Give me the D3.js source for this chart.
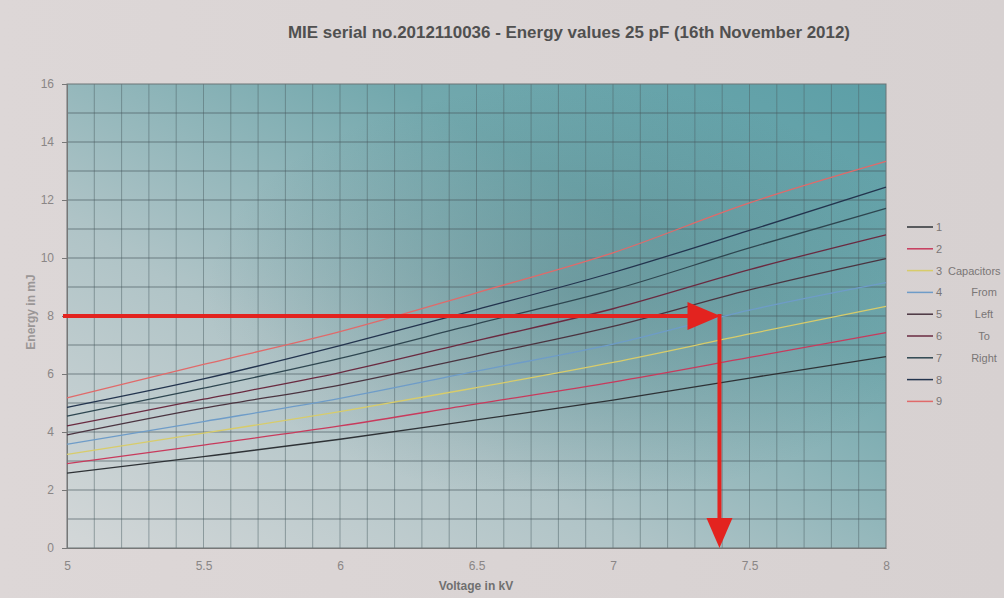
<!DOCTYPE html>
<html><head><meta charset="utf-8">
<script src="https://cdn.jsdelivr.net/npm/d3@7"></script>
<style>body{margin:0;background:#dbd5d5;}svg{display:block;}</style>
</head><body>
<svg id="c" width="1004" height="598"></svg>
<script>
const voltages = [5, 5.5, 6, 6.5, 7, 7.5, 8];
const s1 = [2.58, 3.15, 3.75, 4.42, 5.10, 5.86, 6.60];
const s2 = [2.91, 3.55, 4.21, 4.97, 5.72, 6.57, 7.43];
const s3 = [3.23, 3.96, 4.70, 5.53, 6.40, 7.38, 8.33];
const s4 = [3.58, 4.36, 5.16, 6.10, 7.03, 8.20, 9.15];
const s5 = [3.90, 4.82, 5.62, 6.62, 7.64, 8.90, 9.98];
const s6 = [4.21, 5.13, 6.05, 7.15, 8.25, 9.60, 10.80];
const s7 = [4.55, 5.51, 6.54, 7.73, 8.90, 10.35, 11.71];
const s8 = [4.85, 5.83, 6.98, 8.22, 9.50, 10.95, 12.44];
const s9 = [5.18, 6.33, 7.46, 8.80, 10.18, 11.90, 13.33];
const seriesNames = ["1", "2", "3", "4", "5", "6", "7", "8", "9"];
const seriesNotes = ["", "", "Capacitors", "From", "Left", "To", "Right", "", ""];
const seriesColors = ["#2e3236", "#c83a5c", "#d8cc6a", "#6e9cc8", "#4a3440", "#6a2a40", "#2e4650", "#23344e", "#e06a6a"];
const yTicks = [0, 2, 4, 6, 8, 10, 12, 14, 16];
const xTicks = [5, 5.5, 6, 6.5, 7, 7.5, 8];
const titleText = "MIE serial no.2012110036 -  Energy values 25 pF (16th November 2012)";
const xLabel = "Voltage in kV";
const yLabel = "Energy in mJ";
const readV = [7.39];
const readE = [8];

const allSeries = [s1, s2, s3, s4, s5, s6, s7, s8, s9];
const svg = d3.select("#c");
const W = 1004, H = 598;
const L = 67, R = 886, T = 84, B = 548;
const x = d3.scaleLinear().domain([5, 8]).range([L, R]);
const y = d3.scaleLinear().domain([0, 16]).range([B, T]);

const defs = svg.append("defs");
const bg = defs.append("linearGradient").attr("id", "pg").attr("x1", "0").attr("y1", "0").attr("x2", "1").attr("y2", "0");
bg.append("stop").attr("offset", "0").attr("stop-color", "#ddd7d7");
bg.append("stop").attr("offset", "1").attr("stop-color", "#d7d1d1");
svg.append("rect").attr("width", W).attr("height", H).attr("fill", "url(#pg)");

const g1 = defs.append("linearGradient").attr("id", "plotg").attr("x1", "0").attr("y1", "1").attr("x2", "1").attr("y2", "0");
g1.append("stop").attr("offset", "0").attr("stop-color", "#d3d7d8");
g1.append("stop").attr("offset", "0.35").attr("stop-color", "#b0c4c7");
g1.append("stop").attr("offset", "0.7").attr("stop-color", "#72a8ad");
g1.append("stop").attr("offset", "1").attr("stop-color", "#5c9fa7");
svg.append("rect").attr("x", L).attr("y", T).attr("width", R - L).attr("height", B - T).attr("fill", "url(#plotg)");
const g2 = defs.append("radialGradient").attr("id", "shade").attr("cx", "0.62").attr("cy", "0.45").attr("r", "0.45");
g2.append("stop").attr("offset", "0").attr("stop-color", "#3a6a70").attr("stop-opacity", 0.32);
g2.append("stop").attr("offset", "1").attr("stop-color", "#3a6a70").attr("stop-opacity", 0);
svg.append("rect").attr("x", L).attr("y", T).attr("width", R - L).attr("height", B - T).attr("fill", "url(#shade)");

// grid
const grid = svg.append("g");
grid.selectAll("line.v").data(d3.range(1, 30).map(i => 5 + i * 0.1)).join("line")
  .attr("x1", d => x(d)).attr("x2", d => x(d)).attr("y1", T).attr("y2", B)
  .attr("stroke", "#4d6266").attr("stroke-opacity", 0.5).attr("stroke-width", 1);
grid.selectAll("line.h").data(d3.range(1, 16)).join("line")
  .attr("x1", L).attr("x2", R).attr("y1", d => y(d)).attr("y2", d => y(d))
  .attr("stroke", "#46585c").attr("stroke-opacity", 0.65).attr("stroke-width", 1.2);
svg.append("rect").attr("x", L).attr("y", T).attr("width", R - L).attr("height", B - T)
  .attr("fill", "none").attr("stroke", "#6a7476").attr("stroke-width", 1);

// axes
const ya = svg.append("g").attr("transform", `translate(${L},0)`)
  .call(d3.axisLeft(y).tickValues(yTicks).tickSize(5).tickPadding(8).tickFormat(d3.format("d")));
const xa = svg.append("g").attr("transform", `translate(0,${B})`)
  .call(d3.axisBottom(x).tickValues(xTicks).tickSize(0).tickPadding(13).tickFormat(d => String(d)));
[ya, xa].forEach(a => {
  a.select(".domain").attr("stroke", "#777");
  a.selectAll(".tick line").attr("stroke", "#777");
  a.selectAll("text").attr("fill", "#8a8686").attr("font-family", "Liberation Sans, Arial, sans-serif").attr("font-size", 12);
});

// series lines
const line = d3.line().x((d, i) => x(voltages[i])).y(d => y(d)).curve(d3.curveMonotoneX);
svg.append("g").selectAll("path").data(allSeries).join("path")
  .attr("d", d => line(d)).attr("fill", "none")
  .attr("stroke", (d, i) => seriesColors[i]).attr("stroke-width", 1.3);

// annotation arrows
const red = "#e3231f";
const ax = x(readV[0]), ay = y(readE[0]);
svg.append("line").attr("x1", L - 4).attr("x2", ax - 28).attr("y1", ay).attr("y2", ay)
  .attr("stroke", red).attr("stroke-width", 4);
svg.append("path").attr("d", `M${ax - 32},${ay - 14} L${ax + 1},${ay} L${ax - 32},${ay + 14} Z`).attr("fill", red);
svg.append("line").attr("x1", ax).attr("x2", ax).attr("y1", ay - 2).attr("y2", y(0) - 26)
  .attr("stroke", red).attr("stroke-width", 4);
svg.append("path").attr("d", `M${ax - 13},${y(0) - 30} L${ax},${y(0)} L${ax + 13},${y(0) - 30} Z`).attr("fill", red);

// title and labels
svg.append("text").attr("x", 569).attr("y", 38).attr("text-anchor", "middle")
  .attr("font-family", "Liberation Sans, Arial, sans-serif").attr("font-weight", "bold").attr("font-size", 16)
  .attr("fill", "#505050").attr("textLength", 562).attr("lengthAdjust", "spacingAndGlyphs").text(titleText);
svg.append("text").attr("x", 476).attr("y", 590).attr("text-anchor", "middle")
  .attr("font-family", "Liberation Sans, Arial, sans-serif").attr("font-weight", "bold").attr("font-size", 12)
  .attr("fill", "#707070").text(xLabel);
svg.append("text").attr("transform", "translate(35,312) rotate(-90)").attr("text-anchor", "middle")
  .attr("font-family", "Liberation Sans, Arial, sans-serif").attr("font-weight", "bold").attr("font-size", 12)
  .attr("fill", "#9a9696").text(yLabel);

// legend
const lg = svg.append("g");
const rows = lg.selectAll("g").data(seriesNames).join("g")
  .attr("transform", (d, i) => `translate(907,${227 + i * 21.8})`);
rows.append("line").attr("x1", 0).attr("x2", 26).attr("y1", 0).attr("y2", 0)
  .attr("stroke", (d, i) => seriesColors[i]).attr("stroke-width", 1.5);
rows.append("text").attr("x", 29).attr("y", 4).attr("font-family", "Liberation Sans, Arial, sans-serif")
  .attr("font-size", 11).attr("fill", "#7a7676").text(d => d);
rows.append("text").attr("x", (d, i) => i === 2 ? 41 : 77).attr("y", 4)
  .attr("text-anchor", (d, i) => i === 2 ? "start" : "middle")
  .attr("font-family", "Liberation Sans, Arial, sans-serif")
  .attr("font-size", 11).attr("fill", "#7a7676").text((d, i) => seriesNotes[i]);
</script>
</body></html>
